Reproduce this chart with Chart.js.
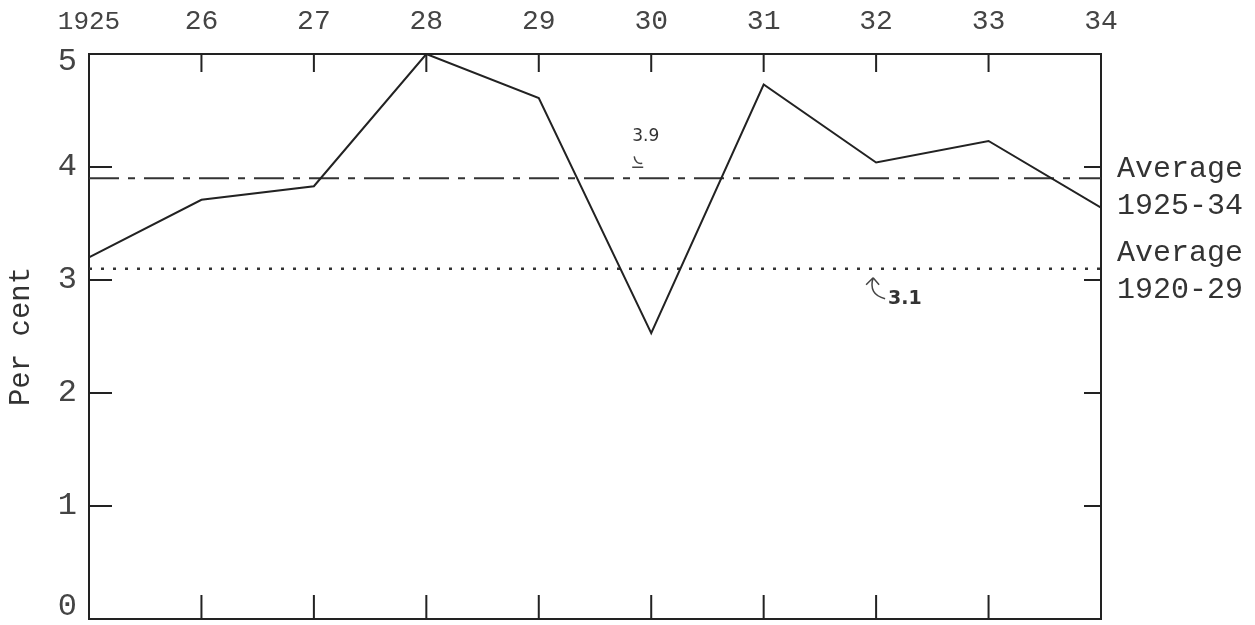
<!DOCTYPE html>
<html>
<head>
<meta charset="utf-8">
<script src="https://cdn.jsdelivr.net/npm/chart.js@4"></script>
<style>
  html, body { margin: 0; padding: 0; background: #fff; }
  #wrap { width: 1255px; height: 625px; }
</style>
</head>
<body>
<div id="wrap"><canvas id="myChart" width="1255" height="625"></canvas></div>
<script>
// values
const years = [1925, 1926, 1927, 1928, 1929, 1930, 1931, 1932, 1933, 1934]
const xTickLabels = ['1925', '26', '27', '28', '29', '30', '31', '32', '33', '34']
const perCent = [3.2, 3.71, 3.83, 5.0, 4.61, 2.53, 4.73, 4.04, 4.23, 3.64]
const avg1925to34 = 3.9
const avg1920to29 = 3.1
const yTicks = [0, 1, 2, 3, 4, 5]

const ink = '#222'
const typeFont = '"Liberation Mono", "DejaVu Sans Mono", monospace'

// short tick marks pointing into the box, plus the hand notes and right labels
const boxMarks = {
   id: 'boxMarks',
   afterDraw(chart) {
      const ctx = chart.ctx
      const area = chart.chartArea
      const x = chart.scales.x
      const y = chart.scales.y
      ctx.save()
      ctx.strokeStyle = ink
      ctx.lineWidth = 2
      ctx.beginPath()
      yTicks.forEach(v => {
         if (v === 0 || v === 5) return
         const py = y.getPixelForValue(v)
         ctx.moveTo(area.left, py)
         ctx.lineTo(area.left + 23, py)
         ctx.moveTo(area.right - 17, py)
         ctx.lineTo(area.right, py)
      })
      years.forEach((yr, i) => {
         if (i === 0 || i === years.length - 1) return
         const px = x.getPixelForValue(yr)
         ctx.moveTo(px, area.top)
         ctx.lineTo(px, area.top + 18)
         ctx.moveTo(px, area.bottom - 24)
         ctx.lineTo(px, area.bottom)
      })
      ctx.stroke()

      // labels on the right
      ctx.fillStyle = '#333'
      ctx.font = '30px ' + typeFont
      ctx.textAlign = 'left'
      ctx.textBaseline = 'middle'
      const a1 = y.getPixelForValue(avg1925to34)
      const a2 = y.getPixelForValue(avg1920to29)
      ctx.fillText('Average', area.right + 16, a1 - 9)
      ctx.fillText('1925-34', area.right + 16, a1 + 28)
      ctx.fillText('Average', area.right + 16, a2 - 16)
      ctx.fillText('1920-29', area.right + 16, a2 + 21)

      // pencil notes
      ctx.font = '17px "DejaVu Sans", sans-serif'
      ctx.fillStyle = '#333'
      const p30 = x.getPixelForValue(1930)
      ctx.fillText('3.9', p30 - 19, a1 - 42)
      ctx.lineWidth = 1.5
      ctx.strokeStyle = '#444'
      ctx.beginPath()
      ctx.moveTo(p30 - 17, a1 - 22)
      ctx.quadraticCurveTo(p30 - 16, a1 - 14, p30 - 9, a1 - 15)
      ctx.moveTo(p30 - 19, a1 - 11)
      ctx.lineTo(p30 - 8, a1 - 11)
      ctx.stroke()

      const p32 = x.getPixelForValue(1932)
      ctx.beginPath()
      ctx.moveTo(p32 - 3, a2 + 9)
      ctx.quadraticCurveTo(p32 - 8, a2 + 26, p32 + 9, a2 + 30)
      ctx.moveTo(p32 - 3, a2 + 9)
      ctx.lineTo(p32 - 10, a2 + 16)
      ctx.moveTo(p32 - 3, a2 + 9)
      ctx.lineTo(p32 + 3, a2 + 16)
      ctx.stroke()
      ctx.font = 'bold 19px "DejaVu Sans", sans-serif'
      ctx.fillText('3.1', p32 + 12, a2 + 30)
      ctx.restore()
   }
}

const ctx = document.getElementById('myChart')

const myChart = new Chart(ctx, {
   type: 'line',
   data: {
      datasets: [{
         label: 'Per cent',
         data: years.map((yr, i) => ({ x: yr, y: perCent[i] })),
         borderColor: ink,
         borderWidth: 2,
         pointRadius: 0,
         tension: 0
      }, {
         label: 'Average 1925-34',
         data: [{ x: years[0], y: avg1925to34 }, { x: years[years.length - 1], y: avg1925to34 }],
         borderColor: '#333',
         borderWidth: 2,
         borderDash: [30, 9, 7, 9],
         pointRadius: 0
      }, {
         label: 'Average 1920-29',
         data: [{ x: years[0], y: avg1920to29 }, { x: years[years.length - 1], y: avg1920to29 }],
         borderColor: '#333',
         borderWidth: 2.5,
         borderDash: [3, 9],
         pointRadius: 0
      }]
   },
   options: {
      responsive: false,
      animation: false,
      layout: { padding: { top: 0, left: 0, right: 154, bottom: 6 } },
      plugins: {
         legend: { display: false },
         tooltip: { enabled: false }
      },
      scales: {
         x: {
            type: 'linear',
            position: 'top',
            min: years[0],
            max: years[years.length - 1],
            afterFit(s) { s.height = 54; s.paddingLeft = 0; s.paddingRight = 0 },
            afterBuildTicks(s) { s.ticks = years.map(v => ({ value: v })) },
            ticks: {
               callback: (v) => xTickLabels[years.indexOf(v)],
               font: (c) => ({ family: typeFont, size: c.index === 0 ? 26 : 28 }),
               color: '#444',
               padding: 16,
               maxRotation: 0
            },
            grid: { display: false, drawTicks: false },
            border: { display: true, color: ink, width: 2 }
         },
         x2: {
            type: 'linear',
            position: 'bottom',
            min: years[0],
            max: years[years.length - 1],
            afterFit(s) { s.height = 0; s.paddingLeft = 0; s.paddingRight = 0 },
            ticks: { display: false },
            grid: { display: false, drawTicks: false },
            border: { display: true, color: ink, width: 2 }
         },
         y: {
            min: 0,
            max: 5,
            afterFit(s) { s.width = 89; s.paddingTop = 0; s.paddingBottom = 0 },
            afterBuildTicks(s) { s.ticks = yTicks.map(v => ({ value: v })) },
            ticks: {
               // 0 sits a little above the corner, 5 a little below it
               callback: (v) => v === 0 ? [String(v), ''] : v === 5 ? ['', String(v)] : String(v),
               font: (c) => ({
                  family: typeFont,
                  size: 32,
                  lineHeight: c.tick && c.tick.value === 0 ? '24px' : c.tick && c.tick.value === 5 ? '16px' : 1.2
               }),
               color: '#444',
               padding: 12
            },
            title: {
               display: true,
               text: 'Per cent',
               font: { family: typeFont, size: 29 },
               color: '#333',
               padding: { top: 4, bottom: 0 }
            },
            grid: { display: false, drawTicks: false },
            border: { display: true, color: ink, width: 2 }
         },
         y2: {
            position: 'right',
            min: 0,
            max: 5,
            afterFit(s) { s.width = 0; s.paddingTop = 0; s.paddingBottom = 0 },
            ticks: { display: false },
            grid: { display: false, drawTicks: false },
            border: { display: true, color: ink, width: 2 }
         }
      }
   },
   plugins: [boxMarks]
})
</script>
</body>
</html>
